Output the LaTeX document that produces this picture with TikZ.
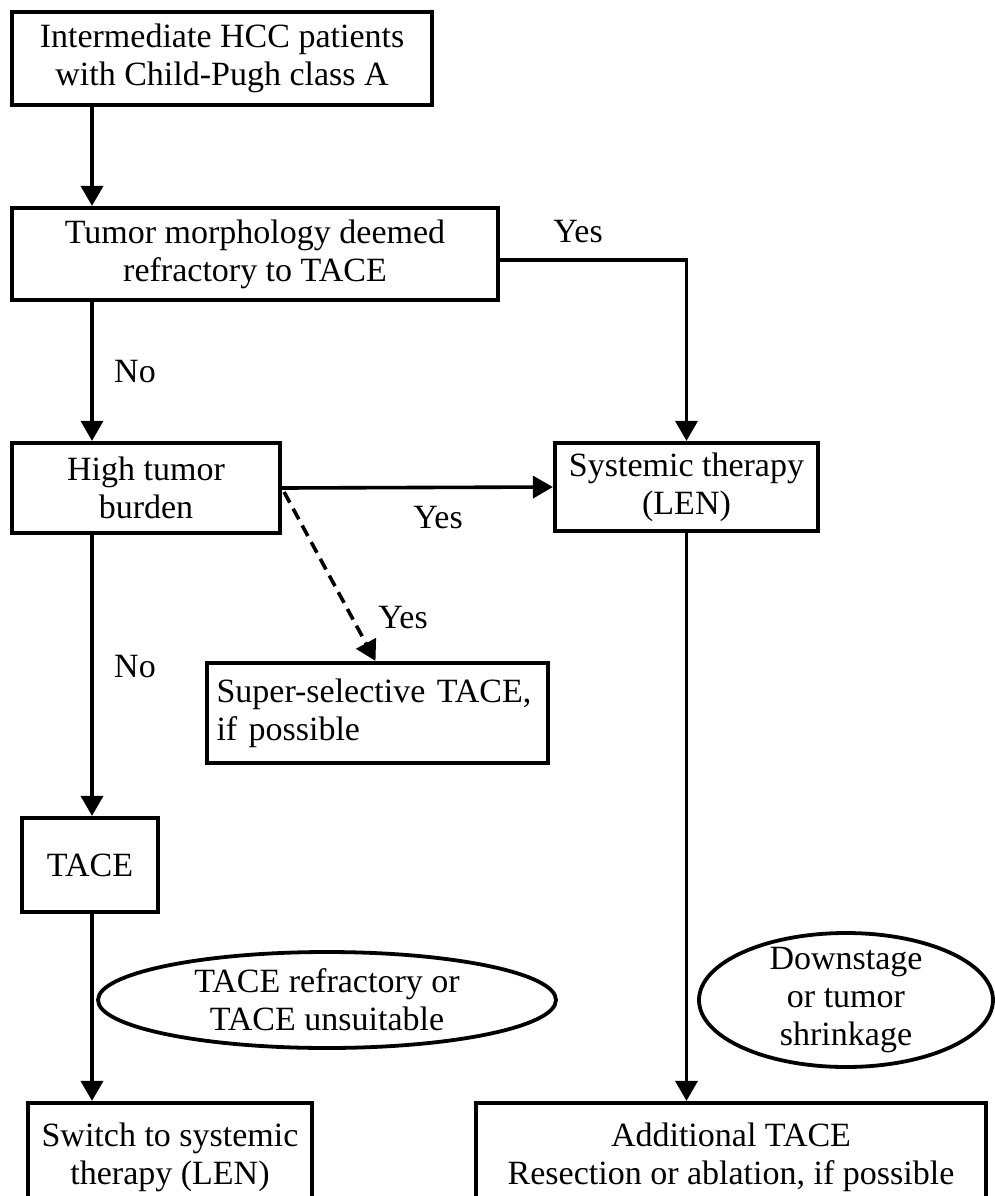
\documentclass[tikz,border=0pt]{standalone}
\usepackage{fontspec}
\setmainfont{Liberation Serif}
\usetikzlibrary{arrows.meta,calc}
\begin{document}
\begin{tikzpicture}[x=0.5pt,y=-0.5pt,
  txt/.style={font=\fontsize{17}{19}\selectfont},
  box/.style={txt,draw,line width=2.1pt,align=center,inner sep=0pt},
  arr/.style={line width=1.8pt,-{Triangle[length=10pt,width=11pt]}},
  lbl/.style={txt,inner sep=0pt},
  oval/.style={line width=1.9pt}]
\clip (0,0) rectangle (995,1196);
\fill[white] (0,0) rectangle (995,1196);
% boxes
\node[box,minimum width=210pt,minimum height=46.5pt] (b1) at (222,58.5) {Intermediate HCC patients\\with Child-Pugh class A};
\node[box,minimum width=243pt,minimum height=46pt] (b2) at (255,254) {Tumor morphology deemed\\refractory to TACE};
\node[box,minimum width=134pt,minimum height=45pt] (b3) at (146,488) {High tumor\\burden};
\node[box,minimum width=131.5pt,minimum height=44pt] (b4) at (686.5,487) {Systemic therapy\\(LEN)};
\node[box,align=left,text width=161pt,inner xsep=4.75pt,minimum height=50pt] (b5) at (377.5,713) {Super-selective TACE,\\if possible};
\node[box,minimum width=68pt,minimum height=47pt] (b6) at (90,865) {TACE};
\node[box,minimum width=142pt,minimum height=54pt] (b7) at (170,1157) {Switch to systemic\\therapy (LEN)};
\node[box,minimum width=255pt,minimum height=54pt] (b8) at (731,1157) {Additional TACE\\Resection or ablation, if possible};
% ovals
\draw[oval] (327,1000) ellipse [x radius=229, y radius=48];
\node[lbl,align=center] (e1) at (327,1000) {TACE refractory or\\TACE unsuitable};
\draw[oval] (846,1000) ellipse [x radius=147, y radius=67];
\node[lbl,align=center] (e2) at (846,1000) {Downstage\\or tumor\\shrinkage};
% connectors
\coordinate (xl) at (92,0);
\draw[arr] (b1.south -| xl) -- (b2.north -| xl);
\draw[arr] (b2.south -| xl) -- (b3.north -| xl);
\draw[arr] ($(b2.east)+(0,6)$) -| (b4.north);
\draw[arr] (b3.east) -- (b4.west);
\draw[arr,dashed,dash pattern=on 6pt off 3.5pt] ($(b3.east)+(2,4)$) -- ($(b5.north)+(-2,0)$);
\draw[arr] (b3.south -| xl) -- (b6.north -| xl);
\draw[arr] (b6.south -| xl) -- (b7.north -| xl);
\draw[arr] (b4.south) -- (b8.north -| b4.south);
% labels
\node[lbl] (l1) at (578,232) {Yes};
\node[lbl] (l2) at (135,372) {No};
\node[lbl] (l3) at (438,518) {Yes};
\node[lbl] (l4) at (403,618) {Yes};
\node[lbl] (l5) at (135,667) {No};
\end{tikzpicture}
\end{document}
